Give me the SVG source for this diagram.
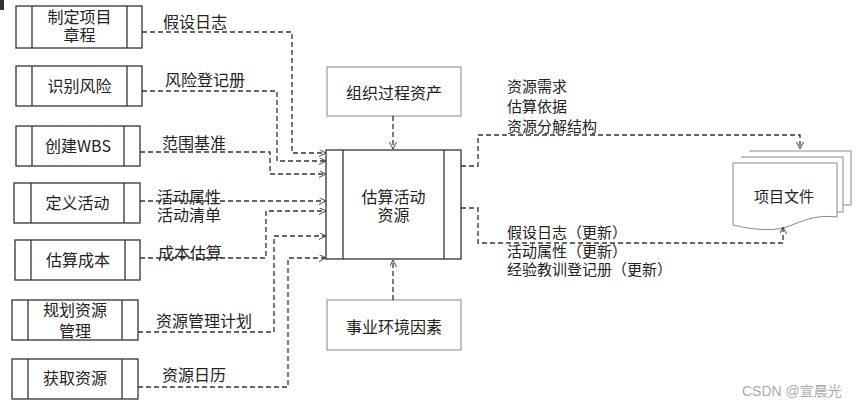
<svg xmlns="http://www.w3.org/2000/svg" width="861" height="411" viewBox="0 0 861 411">
<defs>
<marker id="arr" markerUnits="userSpaceOnUse" markerWidth="10" markerHeight="10" refX="7" refY="3.5" orient="auto">
<path d="M0,0 L7,3.5 L0,7" fill="none" stroke="#444" stroke-width="1"/>
</marker>
</defs>
<style>
.box{fill:#fff;stroke:#333;stroke-width:1.3}
.gbox{fill:#fff;stroke:#999;stroke-width:1.2}
.t{font-family:"Noto Sans CJK SC","Noto Sans",sans-serif;font-size:16px;fill:#222}
.tc{text-anchor:middle}
.s{font-size:15px}
.dash{fill:none;stroke:#333;stroke-width:1.3;stroke-dasharray:5,3}
.arrow{marker-end:url(#arr)}
.doc{fill:#fff;stroke:#888;stroke-width:1}
</style>
<rect width="861" height="411" fill="#fff"/>
<rect x="0" y="0" width="4" height="10" fill="#333"/>

<g id="n1">
<rect class="box" x="16" y="6" width="126" height="42"/>
<line class="box" x1="32" y1="6" x2="32" y2="48"/><line class="box" x1="127" y1="6" x2="127" y2="48"/>
<text class="t tc" x="79.5" y="22.5">制定项目</text>
<text class="t tc" x="79.5" y="41">章程</text>
</g>
<g id="n2">
<rect class="box" x="16" y="66" width="126" height="40"/>
<line class="box" x1="32" y1="66" x2="32" y2="106"/><line class="box" x1="127" y1="66" x2="127" y2="106"/>
<text class="t tc" x="79.5" y="92">识别风险</text>
</g>
<g id="n3">
<rect class="box" x="16" y="126" width="124" height="40"/>
<line class="box" x1="32" y1="126" x2="32" y2="166"/><line class="box" x1="124" y1="126" x2="124" y2="166"/>
<text class="t tc" x="78" y="152">创建WBS</text>
</g>
<g id="n4">
<rect class="box" x="14" y="183" width="126" height="40"/>
<line class="box" x1="31" y1="183" x2="31" y2="223"/><line class="box" x1="124" y1="183" x2="124" y2="223"/>
<text class="t tc" x="77.5" y="209">定义活动</text>
</g>
<g id="n5">
<rect class="box" x="15" y="240" width="125" height="40"/>
<line class="box" x1="31" y1="240" x2="31" y2="280"/><line class="box" x1="125" y1="240" x2="125" y2="280"/>
<text class="t tc" x="78" y="266">估算成本</text>
</g>
<g id="n6">
<rect class="box" x="12" y="300" width="126" height="40"/>
<line class="box" x1="28" y1="300" x2="28" y2="340"/><line class="box" x1="122" y1="300" x2="122" y2="340"/>
<text class="t tc" x="75" y="316">规划资源</text>
<text class="t tc" x="75" y="337">管理</text>
</g>
<g id="n7">
<rect class="box" x="12" y="359" width="126" height="40"/>
<line class="box" x1="28" y1="359" x2="28" y2="399"/><line class="box" x1="122" y1="359" x2="122" y2="399"/>
<text class="t tc" x="75" y="384">获取资源</text>
</g>

<g id="opa">
<rect class="gbox" x="327" y="67" width="134" height="49"/>
<text class="t tc" x="394" y="99">组织过程资产</text>
</g>
<g id="center">
<rect class="box" x="326" y="150" width="135" height="109"/>
<line class="box" x1="343" y1="150" x2="343" y2="259"/><line class="box" x1="444" y1="150" x2="444" y2="259"/>
<text class="t tc" x="393.5" y="203">估算活动</text>
<text class="t tc" x="393.5" y="221">资源</text>
</g>
<g id="eef">
<rect class="gbox" x="327" y="300" width="134" height="50"/>
<text class="t tc" x="394" y="333">事业环境因素</text>
</g>

<g id="docs">
<path class="doc" d="M749,151 H851 V205 H843"/>
<path class="doc" d="M741,157 H843 V212 H837"/>
<path class="doc" d="M733,163 H837 V217 C815,214 800,222 787,227 C770,232 750,229 733,225 Z"/>
<text class="t tc s" x="784" y="202">项目文件</text>
</g>

<g id="connectors">
<path class="dash arrow" d="M142,32 H292 V153 H326"/>
<path class="dash arrow" d="M142,91 H277 V161 H326"/>
<path class="dash arrow" d="M140,152 H270 V174 H326"/>
<path class="dash arrow" d="M140,201 H326"/>
<path class="dash arrow" d="M140,258 H266 V211 H326"/>
<path class="dash arrow" d="M138,332 H274 V236 H326"/>
<path class="dash arrow" d="M138,387 H288 V258 H326"/>
<path class="dash arrow" d="M393,116 V149"/>
<path class="dash arrow" d="M393,300 V260"/>
<path class="dash arrow" d="M461,166 H478 V135 H800 V149"/>
<path class="dash arrow" d="M461,208 H478 V243 H783 V227"/>
</g>

<g id="labels">
<text class="t" x="163" y="28">假设日志</text>
<text class="t" x="165" y="86">风险登记册</text>
<text class="t" x="162" y="149">范围基准</text>
<text class="t" x="157" y="203">活动属性</text>
<text class="t" x="157" y="221">活动清单</text>
<text class="t" x="158" y="259">成本估算</text>
<text class="t" x="156" y="327">资源管理计划</text>
<text class="t" x="162" y="381">资源日历</text>
<text class="t s" x="507" y="92">资源需求</text>
<text class="t s" x="507" y="112">估算依据</text>
<text class="t s" x="507" y="132">资源分解结构</text>
<text class="t s" x="507" y="238">假设日志（更新）</text>
<text class="t s" x="507" y="257">活动属性（更新）</text>
<text class="t s" x="507" y="275">经验教训登记册（更新）</text>
</g>
<text x="742" y="396" font-family="'Liberation Sans','Noto Sans CJK SC',sans-serif" font-size="14" fill="#aaa">CSDN @宣晨光</text>
</svg>
